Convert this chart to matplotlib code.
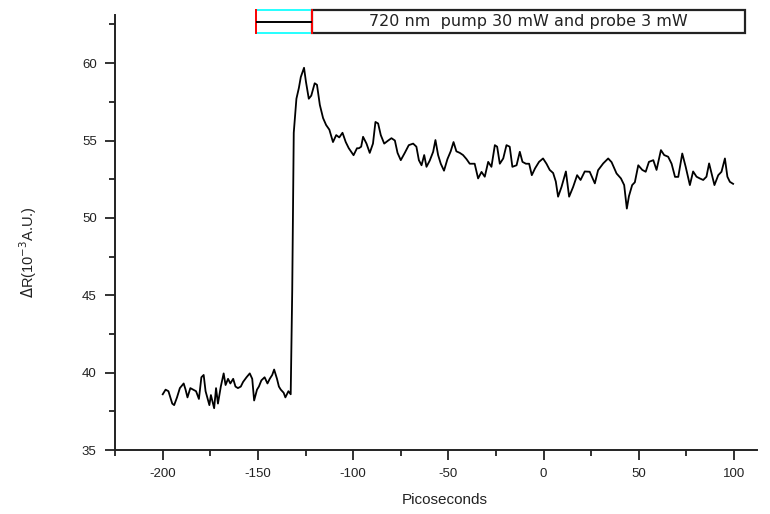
import matplotlib
matplotlib.use('Agg')
import matplotlib.pyplot as plt
from matplotlib.patches import Rectangle
from matplotlib.lines import Line2D
from matplotlib.ticker import MultipleLocator

# time axis (ps) and reflectivity change
t_base = [-200, -198.5, -197, -196, -195, -194, -192.5, -191, -189, -188, -187, -185.5, -184, -182.5,
          -181, -179.7, -178.5, -177.5, -176.2, -175.5, -174.7, -173, -172, -171, -169.5, -168, -167,
          -165.7, -164.5, -163, -161.8, -160.5, -159, -157.8, -156, -154.3, -153, -152, -150.5, -149.5,
          -148.2, -146.5, -145, -143.8, -142.5, -141.5, -140, -139, -138, -136.5, -135.6, -134, -132.8]
v_base = [38.6, 38.9, 38.8, 38.4, 38.0, 37.9, 38.4, 39.0, 39.3, 38.9, 38.4, 39.0, 38.9, 38.8,
          38.3, 39.7, 39.85, 38.8, 38.2, 37.9, 38.55, 37.7, 39.0, 38.0, 39.1, 39.95, 39.2,
          39.6, 39.3, 39.6, 39.1, 39.0, 39.1, 39.4, 39.7, 39.95, 39.6, 38.2, 38.9, 39.1,
          39.5, 39.7, 39.3, 39.6, 39.85, 40.2, 39.6, 39.1, 38.9, 38.7, 38.4, 38.8, 38.6]

t_rise = [-132, -131.2, -129.8, -128.5, -127.5, -125.8, -124.8, -123.3, -122, -120.2, -119, -117.5,
          -115.8, -114.2, -112.5, -110.6, -108.9, -107.3, -105.6, -103.9, -102.3, -99.8, -98]
v_rise = [45.3, 55.5, 57.7, 58.4, 59.1, 59.7, 58.8, 57.7, 57.9, 58.7, 58.6, 57.3,
          56.45, 56.0, 55.7, 54.9, 55.35, 55.2, 55.5, 54.9, 54.5, 54.05, 54.5]

t_decay = [-97, -95.8, -94.8, -93, -91.3, -89.6, -88.3, -86.9, -85.5, -83.7, -81.6, -79.9, -78.1,
           -76.7, -75, -72.9, -70.8, -68.5, -66.8, -65.5, -64.1, -62.7, -61.5, -59.8, -58, -56.8,
           -55.4, -54, -52.3, -50.5, -48.8, -47.3, -45.8, -44, -42.3, -40.5, -38.8,
           -36.2, -34.4, -32.6, -30.9, -29.1, -27.4, -25.6, -24.4, -23, -21.2, -19.5, -17.8, -16.4,
           -14.2, -12.5, -11.1, -9.3, -7.6, -6.2, -4.5, -2.4, -0.3, 1.5, 3.2, 5, 6.4, 7.6, 9.4,
           11.7, 13.4, 15.5, 17.6, 19.4, 21.6]
v_decay = [54.5, 54.6, 55.24, 54.8, 54.2, 54.8, 56.2, 56.1, 55.35, 54.8, 55.0, 55.15, 55.0,
           54.2, 53.73, 54.2, 54.7, 54.8, 54.6, 53.73, 53.4, 54.06, 53.3, 53.7, 54.27, 55.03,
           54.06, 53.5, 53.05, 53.8, 54.3, 54.9, 54.3, 54.2, 54.06, 53.8, 53.5,
           53.5, 52.55, 52.97, 52.66, 53.62, 53.3, 54.7, 54.6, 53.5, 53.84, 54.7, 54.6, 53.3,
           53.4, 54.27, 53.62, 53.5, 53.5, 52.76, 53.2, 53.62, 53.84, 53.5, 53.1, 52.9, 52.35, 51.37, 52.0,
           53.0, 51.37, 52.0, 52.76, 52.45, 53.0]

t_tail = [24.2, 26.9, 28.6, 31.3, 33.9, 35.7, 38.3, 40.6, 42.3, 43.7, 44.8, 46.5, 47.9, 49.7,
          51.8, 53.6, 55.3, 57.6, 59.3, 61.6, 63.3, 65.4, 67.2, 69, 70.7, 72.8,
          74.6, 76.8, 78.5, 80.3, 82, 83.8, 85.5, 86.9, 88.6, 89.7, 91.7, 93.4, 95.2, 96.5, 97.8, 99.5]
v_tail = [52.98, 52.23, 53.08, 53.52, 53.84, 53.6, 52.87, 52.55, 52.12, 50.6, 51.4, 52.12, 52.3, 53.4,
          53.1, 52.98, 53.62, 53.73, 53.1, 54.38, 54.06, 53.95, 53.5, 52.65, 52.65, 54.16,
          53.3, 52.12, 53.0, 52.66, 52.55, 52.45, 52.66, 53.52, 52.66, 52.12, 52.76, 52.98, 53.84, 52.66, 52.33, 52.2]

time_ps = t_base + t_rise + t_decay + t_tail
delta_r = v_base + v_rise + v_decay + v_tail

legend_text = '720 nm  pump 30 mW and probe 3 mW'

plt.rcParams['font.family'] = ['Liberation Sans', 'DejaVu Sans']
plt.rcParams['axes.unicode_minus'] = False

fig = plt.figure(figsize=(7.7, 5.14), dpi=100)
ax = fig.add_axes([0.149, 0.1245, 0.834, 0.846])

ax.plot(time_ps, delta_r, color='black', linewidth=1.3)

ax.set_xlim(-225.2, 112)
ax.set_ylim(35, 63.1)
ax.xaxis.set_major_locator(MultipleLocator(50))
ax.xaxis.set_minor_locator(MultipleLocator(25))
ax.yaxis.set_major_locator(MultipleLocator(5))
ax.yaxis.set_minor_locator(MultipleLocator(2.5))

for s in ['top', 'right']:
    ax.spines[s].set_visible(False)
for s in ['left', 'bottom']:
    ax.spines[s].set_linewidth(1.4)
    ax.spines[s].set_color('#222222')

ax.tick_params(which='major', direction='out', length=7, width=1.3, color='#222222',
               labelsize=9.5, labelcolor='#222222', pad=6)
ax.tick_params(which='minor', direction='out', length=4, width=1.3, color='#222222')

ax.set_xlabel('Picoseconds', fontsize=11, color='#222222')
ax.set_ylabel('$\\Delta$R(10$^{-3}$A.U.)', fontsize=10.5, color='#222222')
ax.xaxis.set_label_coords(0.514, -0.1)
ax.yaxis.set_label_coords(-0.118, 0.455)

# Origin style legend drawn on the figure
W, H = 770.0, 514.0
fig.add_artist(Rectangle((312 / W, 1 - 33 / H), (745 - 312) / W, 23 / H, transform=fig.transFigure,
                         fill=False, edgecolor='#222222', linewidth=1.6))
fig.add_artist(Rectangle((256 / W, 1 - 33 / H), (312 - 256) / W, 23 / H, transform=fig.transFigure,
                         fill=False, edgecolor='cyan', linewidth=1.2))
fig.add_artist(Line2D([256 / W, 256 / W], [1 - 33 / H, 1 - 10 / H], transform=fig.transFigure,
                      color='red', linewidth=1.4))
fig.add_artist(Line2D([312 / W, 312 / W], [1 - 33 / H, 1 - 10 / H], transform=fig.transFigure,
                      color='red', linewidth=1.4))
fig.add_artist(Line2D([257 / W, 311 / W], [1 - 22 / H, 1 - 22 / H], transform=fig.transFigure,
                      color='black', linewidth=1.4))
fig.text(528 / W, 1 - 21.5 / H, legend_text, ha='center', va='center', fontsize=11.5,
         color='#222222', family='DejaVu Sans')

plt.savefig('out.png', dpi=100)
